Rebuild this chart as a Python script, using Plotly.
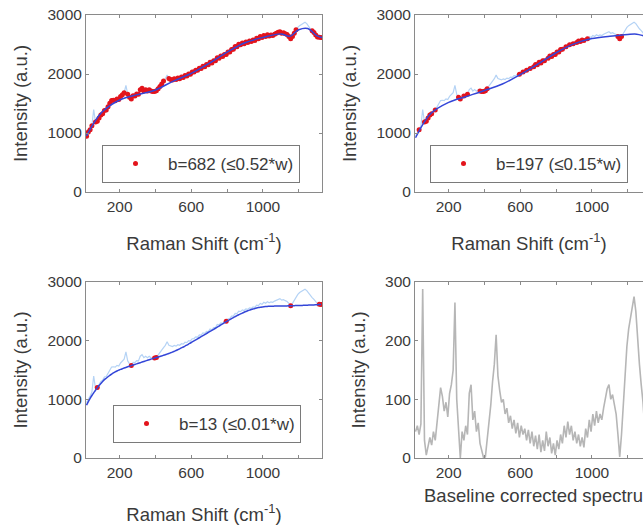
import numpy as np
import plotly.graph_objects as go

# ---------------- data ----------------
X_START = 15          # first Raman shift sample (cm-1)
X_STEP = 10           # sampling step (cm-1)

# baseline-corrected spectrum (a.u.)
corrected = [45, 55, 40, 58, 288, 30, 5, 18, 35, 22, 45, 30, 60, 95, 120, 105, 80, 95, 70, 110,
             125, 150, 265, 100, 40, 0, 45, 30, 55, 40, 110, 125, 65, 80, 45, 60, 25, 10, 0, 2,
             30, 60, 90, 130, 160, 210, 140, 115, 95, 100, 75, 85, 60, 72, 50, 65, 42, 60, 35, 55,
             40, 50, 30, 48, 25, 45, 20, 38, 15, 40, 10, 30, 12, 45, 20, 35, 8, 25, 5, 30,
             15, 40, 25, 55, 35, 62, 40, 55, 30, 45, 25, 40, 20, 35, 18, 50, 35, 65, 45, 75,
             55, 80, 60, 75, 65, 85, 100, 118, 125, 100, 108, 90, 75, 40, 2, 40, 95, 150, 190, 220,
             240, 255, 275, 250, 200, 160, 125, 95, 50, 15, 5, 0]

# final baseline (b=13) on the same sampling grid (a.u.)
baseline = [900, 960, 1015, 1065, 1110, 1155, 1195, 1235, 1270, 1305, 1335, 1360, 1385, 1410, 1430,
            1450, 1468, 1483, 1497, 1510, 1522, 1533, 1544, 1555, 1565, 1575, 1585, 1595, 1605, 1615,
            1625, 1635, 1645, 1655, 1665, 1675, 1685, 1694, 1703, 1712, 1721, 1730, 1740, 1750, 1760,
            1771, 1782, 1793, 1805, 1818, 1832, 1846, 1861, 1876, 1892, 1908, 1925, 1942, 1960, 1978,
            1996, 2014, 2032, 2050, 2068, 2086, 2104, 2122, 2140, 2158, 2176, 2194, 2212, 2230, 2249,
            2268, 2287, 2306, 2325, 2343, 2360, 2377, 2394, 2410, 2426, 2441, 2456, 2470, 2484, 2497,
            2509, 2520, 2530, 2540, 2549, 2557, 2564, 2570, 2575, 2579, 2582, 2584, 2586, 2587, 2588,
            2589, 2590, 2590, 2591, 2591, 2592, 2592, 2593, 2594, 2595, 2596, 2597, 2598, 2599, 2600,
            2601, 2602, 2603, 2604, 2606, 2607, 2609, 2610, 2612, 2614, 2616, 2618]

# fitted baselines of the first two iterations (knots)
fit1_x = [15, 100, 200, 300, 400, 500, 600, 700, 800, 900, 1000, 1100, 1150, 1200, 1250, 1300, 1330]
fit1_y = [950, 1350, 1560, 1650, 1730, 1880, 2010, 2180, 2370, 2530, 2620, 2680, 2640, 2750, 2770, 2650, 2620]
fit2_x = [15, 100, 200, 300, 400, 500, 600, 700, 800, 900, 1000, 1100, 1200, 1250, 1300, 1330]
fit2_y = [920, 1330, 1520, 1620, 1720, 1830, 1990, 2170, 2360, 2510, 2600, 2640, 2670, 2675, 2640, 2630]

# points kept as baseline points in each iteration: corrected value <= threshold
thresholds = [150, 40, 5]
legend_labels = ["b=682 (≤0.52*w)", "b=197 (≤0.15*w)", "b=13 (≤0.01*w)"]
fits = [(fit1_x, fit1_y), (fit2_x, fit2_y), (None, None)]

x_ticks = [200, 400, 600, 800, 1000, 1200]
x_ticktext = ["200", "", "600", "", "1000", ""]

assert len(corrected) == len(baseline)
x = X_START + X_STEP * np.arange(len(corrected))
corr = np.array(corrected, dtype=float)
base = np.array(baseline, dtype=float)
raw = base + corr

# ---------------- figure ----------------
W, H = 643, 525
FONT = "Liberation Sans, Arial, sans-serif"
LINE = "#8a8a8a"
TXT = "#3a3a3a"
TICK_FS = 15.5
TITLE_FS = 18.5
LEG_FS = 17

def px_x(a, b):
    return [a / W, b / W]

def px_y(top, bottom):
    return [1 - bottom / H, 1 - top / H]

cols = {"L": px_x(86, 322), "R": px_x(415, 643)}
rows = {"T": px_y(15, 192), "B": px_y(282, 458)}
xr = {"L": [12, 1330], "R": [12, 1285]}
x_standoff = {"T": 23, "B": 29}

panels = [("T", "L"), ("T", "R"), ("B", "L"), ("B", "R")]

fig = go.Figure()
layout = dict(width=W, height=H, margin=dict(l=0, r=0, t=0, b=0),
              paper_bgcolor="white", plot_bgcolor="white",
              font=dict(family=FONT, color=TXT, size=15), showlegend=True)

for i, (r, c) in enumerate(panels):
    n = i + 1
    xa = "xaxis" if n == 1 else f"xaxis{n}"
    ya = "yaxis" if n == 1 else f"yaxis{n}"
    xref = "x" if n == 1 else f"x{n}"
    yref = "y" if n == 1 else f"y{n}"
    is_spec = (n == 4)
    layout[xa] = dict(domain=cols[c], anchor=yref, range=xr[c], automargin=False,
                      tickvals=x_ticks, ticktext=x_ticktext, ticks="inside", ticklen=3,
                      tickcolor=LINE, showline=True, linecolor=LINE, linewidth=1,
                      mirror="ticks", showgrid=False, zeroline=False,
                      tickfont=dict(size=TICK_FS, color=TXT))
    if not is_spec:
        layout[xa]["title"] = dict(text="Raman Shift (cm<sup>-1</sup>)",
                                   font=dict(size=TITLE_FS, color=TXT), standoff=x_standoff[r])
    layout[ya] = dict(domain=rows[r], anchor=xref, automargin=False,
                      range=[0, 300] if is_spec else [0, 3000],
                      tickvals=[0, 100, 200, 300] if is_spec else [0, 1000, 2000, 3000],
                      ticks="inside", ticklen=3, tickcolor=LINE, showline=True,
                      linecolor=LINE, linewidth=1, mirror=("ticks" if c == "L" else False),
                      showgrid=False, zeroline=False, tickfont=dict(size=TICK_FS, color=TXT),
                      title=dict(text="Intensity (a.u.)", font=dict(size=TITLE_FS, color=TXT),
                                 standoff=14))

    if is_spec:
        fig.add_trace(go.Scatter(x=x, y=corr, mode="lines", line=dict(color="#b6b6b6", width=1.6),
                                 xaxis=xref, yaxis=yref, showlegend=False))
        continue

    # raw spectrum
    fig.add_trace(go.Scatter(x=x, y=raw, mode="lines", line=dict(color="#b5d3f5", width=1.2),
                             xaxis=xref, yaxis=yref, showlegend=False))
    k = i
    mask = corr <= thresholds[k]
    leg = "legend" if k == 0 else f"legend{k + 1}"
    fig.add_trace(go.Scatter(x=x[mask], y=raw[mask], mode="markers",
                             marker=dict(color="#e3141c", size=5),
                             name=legend_labels[k], legend=leg,
                             xaxis=xref, yaxis=yref, showlegend=True))
    fx, fy = fits[k]
    if fx is None:
        fx, fy = x, base
    fig.add_trace(go.Scatter(x=fx, y=fy, mode="lines", line=dict(color="#3346d8", width=1.5, shape="spline"),
                             xaxis=xref, yaxis=yref, showlegend=False))

leg_common = dict(xanchor="left", yanchor="top", bordercolor="#7a7a7a", borderwidth=1,
                  bgcolor="white", font=dict(size=LEG_FS, color=TXT), itemwidth=55)
layout["legend"] = dict(x=102 / W, y=1 - 145 / H, **leg_common)
layout["legend2"] = dict(x=430 / W, y=1 - 145 / H, **leg_common)
layout["legend3"] = dict(x=113 / W, y=1 - 405 / H, **leg_common)

layout["annotations"] = [dict(text="Baseline corrected spectrum", xref="paper", yref="paper",
                              x=422 / W, y=1 - 495 / H, xanchor="left", yanchor="middle",
                              showarrow=False, font=dict(size=TITLE_FS, color=TXT))]

fig.update_layout(**layout)
fig.write_html("out.html")
